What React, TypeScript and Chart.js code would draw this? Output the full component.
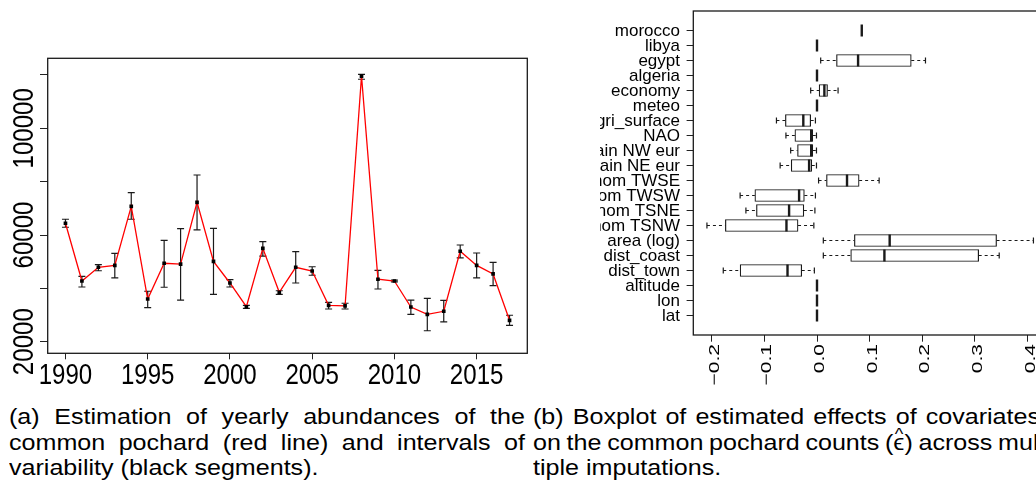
import React, { useEffect, useRef } from 'react';
import { Chart, registerables } from 'chart.js';

Chart.register(...registerables);

// ---------------- Left panel data ----------------
const years = [1990, 1991, 1992, 1993, 1994, 1995, 1996, 1997, 1998, 1999, 2000, 2001, 2002, 2003, 2004, 2005, 2006, 2007, 2008, 2009, 2010, 2011, 2012, 2013, 2014, 2015, 2016, 2017];
const abundance = [64400, 42750, 47900, 48600, 70750, 36000, 49400, 49100, 72250, 50100, 42000, 33100, 55000, 38500, 47900, 46500, 33600, 33400, 119600, 43400, 42750, 33000, 30250, 31400, 53900, 48600, 45400, 28000];
const upperBound = [65900, 44500, 48900, 53100, 75900, 38900, 58000, 62400, 82500, 62500, 43250, 33600, 57500, 39100, 53750, 48100, 34750, 34400, 120250, 46750, 43100, 35600, 36250, 35500, 56250, 53250, 49750, 29900];
const lowerBound = [62900, 40500, 46600, 43900, 65900, 32750, 40400, 35600, 61900, 37750, 40500, 32500, 52100, 37750, 42000, 44900, 32250, 32250, 118400, 39750, 42400, 30250, 24100, 27400, 51400, 43900, 41000, 26100];
const yearTicks = [1990, 1995, 2000, 2005, 2010, 2015];
const countTicks = [20000, 40000, 60000, 80000, 100000, 120000];
const countTickLabels = ['20000', '', '60000', '', '100000', ''];

// ---------------- Right panel data ----------------
const covariates = ['morocco', 'libya', 'egypt', 'algeria', 'economy', 'meteo', 'agri_surface', 'NAO', 'rain NW eur', 'rain NE eur', 'anom TWSE', 'anom TWSW', 'anom TSNE', 'anom TSNW', 'area (log)', 'dist_coast', 'dist_town', 'altitude', 'lon', 'lat'];
const whiskerLow = [0.085, 0, 0.007, 0, -0.012, 0, -0.077, -0.059, -0.050, -0.070, 0.003, -0.146, -0.135, -0.209, 0.012, 0.012, -0.178, 0, 0, 0];
const quartile1 = [0.085, 0, 0.037, 0, 0.004, 0, -0.060, -0.042, -0.037, -0.049, 0.018, -0.118, -0.115, -0.174, 0.071, 0.064, -0.146, 0, 0, 0];
const medianVal = [0.085, 0, 0.078, 0, 0.014, 0, -0.026, -0.011, -0.011, -0.015, 0.057, -0.034, -0.053, -0.058, 0.138, 0.128, -0.056, 0, 0, 0];
const quartile3 = [0.085, 0, 0.179, 0, 0.020, 0, -0.012, -0.008, -0.008, -0.010, 0.080, -0.024, -0.025, -0.036, 0.341, 0.307, -0.029, 0, 0, 0];
const whiskerHigh = [0.085, 0, 0.206, 0, 0.040, 0, -0.003, -0.001, -0.001, -0.001, 0.118, -0.003, -0.004, -0.006, 0.411, 0.346, -0.005, 0, 0, 0];
const effectTicks = [-0.2, -0.1, 0, 0.1, 0.2, 0.3, 0.4];
const effectTickLabels = ['\u22120.2', '\u22120.1', '0.0', '0.1', '0.2', '0.3', '0.4'];

const FONT = '"Liberation Sans", Arial, Helvetica, sans-serif';
const positions = covariates.map((_, i) => covariates.length - i);

function drawFrame(chart: any) {
  const { ctx, chartArea: a } = chart;
  ctx.save();
  ctx.strokeStyle = '#1a1a1a';
  ctx.lineWidth = 1.3;
  ctx.strokeRect(a.left, a.top, a.right - a.left, a.bottom - a.top);
  ctx.restore();
}

const leftPlugin = {
  id: 'leftDecor',
  beforeDatasetsDraw(chart: any) {
    const { ctx, scales } = chart;
    const x = scales.x, y = scales.y;
    ctx.save();
    ctx.strokeStyle = '#1a1a1a';
    ctx.lineWidth = 1.2;
    years.forEach((yr, i) => {
      const px = x.getPixelForValue(yr);
      const top = y.getPixelForValue(upperBound[i]);
      const bot = y.getPixelForValue(lowerBound[i]);
      ctx.beginPath();
      ctx.moveTo(px, top); ctx.lineTo(px, bot);
      ctx.moveTo(px - 3.5, top); ctx.lineTo(px + 3.5, top);
      ctx.moveTo(px - 3.5, bot); ctx.lineTo(px + 3.5, bot);
      ctx.stroke();
    });
    ctx.restore();
  },
  afterDraw(chart: any) {
    drawFrame(chart);
    const { ctx, scales } = chart;
    const x = scales.x, y = scales.y;
    ctx.save();
    ctx.fillStyle = '#000';
    ctx.font = `29px ${FONT}`;
    ctx.textBaseline = 'alphabetic';
    ctx.textAlign = 'center';
    yearTicks.forEach((v) => {
      const px = x.getPixelForValue(v);
      ctx.save();
      ctx.translate(px, 384);
      ctx.scale(0.83, 1);
      ctx.fillText(String(v), 0, 0);
      ctx.restore();
    });
    countTicks.forEach((v, i) => {
      const label = countTickLabels[i];
      if (!label) return;
      const py = y.getPixelForValue(v);
      ctx.save();
      ctx.translate(33.3, py);
      ctx.rotate(-Math.PI / 2);
      ctx.scale(0.83, 1);
      ctx.fillText(label, 0, 0);
      ctx.restore();
    });
    ctx.restore();
  },
};

const rightPlugin = {
  id: 'boxDecor',
  afterDatasetsDraw(chart: any) {
    const { ctx, scales } = chart;
    const x = scales.x, y = scales.y;
    const half = 6;
    const staple = 3;
    ctx.save();
    ctx.strokeStyle = '#1a1a1a';
    covariates.forEach((_, i) => {
      const py = y.getPixelForValue(positions[i]);
      const wl = x.getPixelForValue(whiskerLow[i]);
      const b1 = x.getPixelForValue(quartile1[i]);
      const md = x.getPixelForValue(medianVal[i]);
      const b3 = x.getPixelForValue(quartile3[i]);
      const wh = x.getPixelForValue(whiskerHigh[i]);
      ctx.lineWidth = 1;
      ctx.setLineDash([3, 3]);
      ctx.beginPath();
      if (b1 - wl > 0.5) { ctx.moveTo(wl, py); ctx.lineTo(b1, py); }
      if (wh - b3 > 0.5) { ctx.moveTo(b3, py); ctx.lineTo(wh, py); }
      ctx.stroke();
      ctx.setLineDash([]);
      ctx.lineWidth = 1.2;
      ctx.beginPath();
      if (b1 - wl > 0.5) { ctx.moveTo(wl, py - staple); ctx.lineTo(wl, py + staple); }
      if (wh - b3 > 0.5) { ctx.moveTo(wh, py - staple); ctx.lineTo(wh, py + staple); }
      ctx.stroke();
      ctx.lineWidth = 2.4;
      ctx.beginPath();
      ctx.moveTo(md, py - half); ctx.lineTo(md, py + half);
      ctx.stroke();
    });
    ctx.restore();
  },
  afterDraw(chart: any) {
    drawFrame(chart);
    const { ctx, scales, chartArea } = chart;
    const x = scales.x, y = scales.y;
    ctx.save();
    ctx.fillStyle = '#000';
    ctx.font = `17px ${FONT}`;
    ctx.textAlign = 'right';
    ctx.textBaseline = 'middle';
    covariates.forEach((c, i) => {
      ctx.fillText(c, chartArea.left - 13.3, y.getPixelForValue(positions[i]) + 0.5);
    });
    ctx.font = `15px ${FONT}`;
    ctx.textBaseline = 'alphabetic';
    effectTicks.forEach((v, i) => {
      const px = x.getPixelForValue(v);
      ctx.save();
      ctx.translate(px, 344);
      ctx.rotate(-Math.PI / 2);
      ctx.scale(1.4, 1);
      ctx.fillText(effectTickLabels[i], 0, 6.9);
      ctx.restore();
    });
    ctx.restore();
  },
};

const tickGrid = (len: number) => ({
  display: true,
  drawOnChartArea: false,
  drawTicks: true,
  offset: false,
  tickLength: len,
  color: '#222',
  lineWidth: 1,
});

function LeftChart() {
  const ref = useRef<HTMLCanvasElement | null>(null);
  useEffect(() => {
    if (!ref.current) return;
    const chart = new Chart(ref.current, {
      type: 'line',
      data: {
        datasets: [
          {
            data: years.map((yr, i) => ({ x: yr, y: abundance[i] })),
            borderColor: '#ff0000',
            borderWidth: 1.3,
            tension: 0,
            pointStyle: 'rect',
            pointRadius: 2.6,
            pointBackgroundColor: '#000',
            pointBorderWidth: 0,
            fill: false,
          },
        ],
      },
      options: {
        animation: false,
        responsive: true,
        maintainAspectRatio: false,
        events: [],
        layout: { padding: { left: 0, top: 58.3, right: 12.7, bottom: 0 } },
        plugins: { legend: { display: false }, tooltip: { enabled: false } },
        scales: {
          x: {
            type: 'linear',
            min: 1988.92,
            max: 2018.08,
            offset: false,
            grid: tickGrid(6),
            border: { display: false },
            ticks: { display: false },
            afterBuildTicks: (s: any) => { s.ticks = yearTicks.map((v) => ({ value: v })); },
            afterFit: (s: any) => { s.height = 41.7; },
          },
          y: {
            type: 'linear',
            min: 15640,
            max: 126260,
            offset: false,
            grid: tickGrid(7.7),
            border: { display: false },
            ticks: { display: false },
            afterBuildTicks: (s: any) => { s.ticks = countTicks.map((v) => ({ value: v })); },
            afterFit: (s: any) => { s.width = 47.7; },
          },
        },
      },
      plugins: [leftPlugin],
    } as any);
    return () => chart.destroy();
  }, []);
  return <canvas ref={ref} />;
}

function RightChart() {
  const ref = useRef<HTMLCanvasElement | null>(null);
  useEffect(() => {
    if (!ref.current) return;
    const chart = new Chart(ref.current, {
      type: 'bar',
      data: {
        datasets: [
          {
            data: covariates.map((_, i) => ({ x: [quartile1[i], quartile3[i]], y: positions[i] })),
            backgroundColor: '#ffffff',
            borderColor: '#1a1a1a',
            borderWidth: 1.2,
            borderSkipped: false,
            barThickness: 12,
          },
        ],
      },
      options: {
        indexAxis: 'y',
        animation: false,
        responsive: true,
        maintainAspectRatio: false,
        events: [],
        layout: { padding: { left: 0, top: 11, right: 13.5, bottom: 0 } },
        plugins: { legend: { display: false }, tooltip: { enabled: false } },
        scales: {
          x: {
            type: 'linear',
            min: -0.2349,
            max: 0.4358,
            offset: false,
            grid: tickGrid(6.7),
            border: { display: false },
            ticks: { display: false },
            afterBuildTicks: (s: any) => { s.ticks = effectTicks.map((v) => ({ value: v })); },
            afterFit: (s: any) => { s.height = 60; },
          },
          y: {
            type: 'linear',
            min: -0.3,
            max: 21.3,
            offset: false,
            grid: tickGrid(6.7),
            border: { display: false },
            ticks: { display: false },
            afterBuildTicks: (s: any) => { s.ticks = positions.map((v) => ({ value: v })); },
            afterFit: (s: any) => { s.width = 93.3; },
          },
        },
      },
      plugins: [rightPlugin],
    } as any);
    return () => chart.destroy();
  }, []);
  return <canvas ref={ref} />;
}

const SX = 1.14;

function Word(props: { w: string }) {
  const { w } = props;
  const marker = '\u03F5HAT';
  if (w.includes(marker)) {
    const [pre, post] = w.split(marker);
    return (
      <span>
        {pre}
        <span style={{ position: 'relative', display: 'inline-block' }}>
          {'\u03F5'}
          <span style={{ position: 'absolute', left: 0, right: 0, top: -8, textAlign: 'center', fontSize: 16 }}>^</span>
        </span>
        {post}
      </span>
    );
  }
  return <span>{w}</span>;
}

function CaptionLine(props: { text: string; left: number; top: number; width: number; justify: boolean }) {
  const { text, left, top, width, justify } = props;
  const base: any = {
    position: 'absolute',
    left,
    top,
    width: width / SX,
    height: 26,
    transform: `scaleX(${SX})`,
    transformOrigin: '0 0',
    fontFamily: FONT,
    fontSize: 22,
    lineHeight: '26px',
    whiteSpace: 'nowrap',
    color: '#000',
  };
  const words = text.split(' ');
  if (justify) {
    return (
      <div style={{ ...base, display: 'flex', justifyContent: 'space-between', columnGap: 5 }}>
        {words.map((w, i) => (
          <Word key={i} w={w} />
        ))}
      </div>
    );
  }
  return (
    <div style={base}>
      {words.map((w, i) => (
        <React.Fragment key={i}>
          {i > 0 ? ' ' : ''}
          <Word w={w} />
        </React.Fragment>
      ))}
    </div>
  );
}

export default function App() {
  return (
    <div style={{ position: 'absolute', left: 0, top: 0, width: 1036, height: 497, overflow: 'hidden', background: '#fff' }}>
      <div style={{ position: 'absolute', left: 0, top: 0, width: 540, height: 395 }}>
        <LeftChart />
      </div>
      <div style={{ position: 'absolute', left: 600, top: 0, width: 460, height: 395 }}>
        <RightChart />
      </div>
      <CaptionLine text="(a) Estimation of yearly abundances of the" left={9} top={404} width={516} justify />
      <CaptionLine text="common pochard (red line) and intervals of" left={9} top={430} width={516} justify />
      <CaptionLine text="variability (black segments)." left={9} top={455} width={516} justify={false} />
      <CaptionLine text="(b) Boxplot of estimated effects of covariates" left={533} top={404} width={507} justify />
      <CaptionLine text={'on the common pochard counts (\u03F5HAT) across mul-'} left={533} top={430} width={507} justify />
      <CaptionLine text="tiple imputations." left={533} top={455} width={507} justify={false} />
    </div>
  );
}
